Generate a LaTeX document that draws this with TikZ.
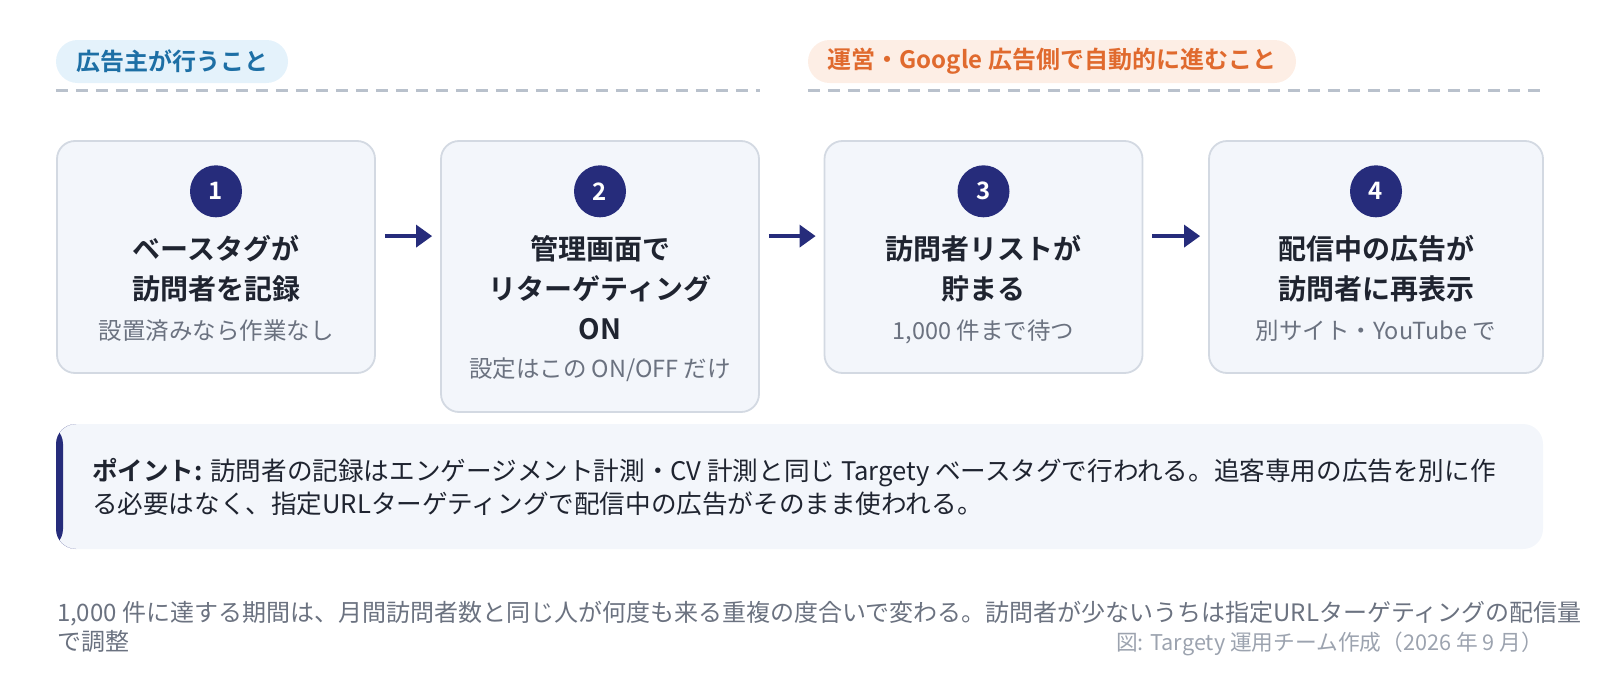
\documentclass[tikz,border=0pt]{standalone}
\usepackage{fontspec}
\setmainfont{Noto Sans CJK JP}[BoldFont={Noto Sans CJK JP Bold}]
\usetikzlibrary{
  positioning,
  arrows.meta}
\definecolor{navycolor}{RGB}{38,44,123}
\definecolor{boxcolor}{RGB}{243,246,251}
\definecolor{boxline}{RGB}{211,217,226}
\definecolor{inkcolor}{RGB}{31,36,48}
\definecolor{subcolor}{RGB}{107,114,128}
\definecolor{creditcolor}{RGB}{156,163,175}
\definecolor{rulecolor}{RGB}{185,193,204}
\definecolor{ownfill}{RGB}{228,242,251}
\definecolor{owntext}{RGB}{29,111,165}
\definecolor{autofill}{RGB}{253,238,229}
\definecolor{autotext}{RGB}{224,106,46}
\tikzset{
  %% tag : pill shaped section label
  tag/.style={
    rectangle,
    rounded corners=21.5pt,
    minimum height=43pt,
    inner sep=0pt,
    font=\fontsize{24}{28}\selectfont\bfseries
  },
  %% divider : dashed rule under a tag
  divider/.style={rulecolor, line width=3.3pt, dash pattern=on 12pt off 8pt},
  %% stepbox : one step of the flow
  %%      ("step" is predefined and can't be used)
  stepbox/.style={
    rectangle,
    rounded corners=18pt,
    draw=boxline,
    line width=1.8pt,
    fill=boxcolor,
    minimum width=318pt,
    minimum height=232pt
  },
  %% badge : step number
  badge/.style={
    circle,
    fill=navycolor,
    text=white,
    minimum size=52pt,
    inner sep=0pt,
    font=\fontsize{24}{28}\selectfont\bfseries
  },
  %% heading : title of a step
  heading/.style={
    inner sep=0pt,
    align=center,
    text=inkcolor,
    font=\fontsize{28}{40}\selectfont\bfseries
  },
  %% subline : grey note under a title
  subline/.style={
    inner sep=0pt,
    text=subcolor,
    font=\fontsize{23.5}{28}\selectfont
  },
  %% flow : arrow between steps
  flow/.style={
    navycolor,
    line width=3.5pt,
    -{Triangle[length=16pt, width=22pt]},
    shorten <=9pt,
    shorten >=8pt
  },
  %% pointbox : note box with a bar on the left
  pointbox/.style={
    rectangle,
    rounded corners=20pt,
    fill=boxcolor,
    minimum width=1487pt,
    minimum height=125pt,
    path picture={
      \fill [navycolor] (path picture bounding box.north west)
      rectangle ([xshift=7pt]path picture bounding box.south west);
    }
  },
  pointline/.style={
    inner sep=0pt,
    align=left,
    text=inkcolor,
    font=\fontsize{25.6}{33}\selectfont
  },
  footline/.style={
    inner sep=0pt,
    align=left,
    text=subcolor,
    font=\fontsize{24}{29}\selectfont
  },
  creditline/.style={
    inner sep=0pt,
    text=creditcolor,
    font=\fontsize{21.7}{25}\selectfont
  }
}

\begin{document}
\begin{tikzpicture}
  [x=1pt,
  y=-1pt]

  \useasboundingbox (0,0) rectangle (1600,680);

  %% Section labels
  \node (owntag) [tag, fill=ownfill, text=owntext, minimum width=232pt]
  at (172,61.5) {広告主が行うこと};
  \node (autotag) [tag, fill=autofill, text=autotext, minimum width=488pt]
  at (1052,61.5) {運営・Google 広告側で自動的に進むこと};
  \draw [divider] ([yshift=-7pt]owntag.south west) -- ++(704,0);
  \draw [divider] ([yshift=-7pt]autotag.south west) -- ++(736,0);

  %% Steps
  \node (box1) [stepbox] at (216,257) {};
  \node (box2) [stepbox, minimum height=271pt] at (600,276.5) {};
  \node (box3) [stepbox] at (983.5,257) {};
  \node (box4) [stepbox, minimum width=334pt] at (1376,257) {};

  \node (num1) [badge, below=25pt of box1.north] {1};
  \node (head1) [heading, below=18pt of num1]{%
    ベースタグが\\
    訪問者を記録
  };
  \node (sub1) [subline, below=17pt of head1] {設置済みなら作業なし};

  \node (num2) [badge, below=25pt of box2.north] {2};
  \node (head2) [heading, below=18pt of num2]{%
    管理画面で\\
    リターゲティング\\
    ON
  };
  \node (sub2) [subline, below=17pt of head2] {設定はこの ON/OFF だけ};

  \node (num3) [badge, below=25pt of box3.north] {3};
  \node (head3) [heading, below=18pt of num3]{%
    訪問者リストが\\
    貯まる
  };
  \node (sub3) [subline, below=17pt of head3] {1,000 件まで待つ};

  \node (num4) [badge, below=25pt of box4.north] {4};
  \node (head4) [heading, below=18pt of num4]{%
    配信中の広告が\\
    訪問者に再表示
  };
  \node (sub4) [subline, below=17pt of head4] {別サイト・YouTube で};

  %% Connections
  \draw [flow] ([yshift=-96pt]box1.north east) -- ([yshift=-96pt]box2.north west);
  \draw [flow] ([yshift=-96pt]box2.north east) -- ([yshift=-96pt]box3.north west);
  \draw [flow] ([yshift=-96pt]box3.north east) -- ([yshift=-96pt]box4.north west);

  %% Point
  \node (point) [pointbox] at (799.5,486.5) {};
  \node (pointtext) [pointline, below right=34pt and 36pt of point.north west]{%
    \textbf{ポイント:} 訪問者の記録はエンゲージメント計測・CV 計測と同じ Targety ベースタグで行われる。追客専用の広告を別に作\\
    る必要はなく、指定URLターゲティングで配信中の広告がそのまま使われる。
  };

  %% Footer
  \node (footnote) [footline, below right=52pt and 1pt of point.south west]{%
    1,000 件に達する期間は、月間訪問者数と同じ人が何度も来る重複の度合いで変わる。訪問者が少ないうちは指定URLターゲティングの配信量\\
    で調整
  };
  \node (credit) [creditline, below left=83pt and 0pt of point.south east]{%
    図: Targety 運用チーム作成（2026 年 9 月）
  };

\end{tikzpicture}
\end{document}
